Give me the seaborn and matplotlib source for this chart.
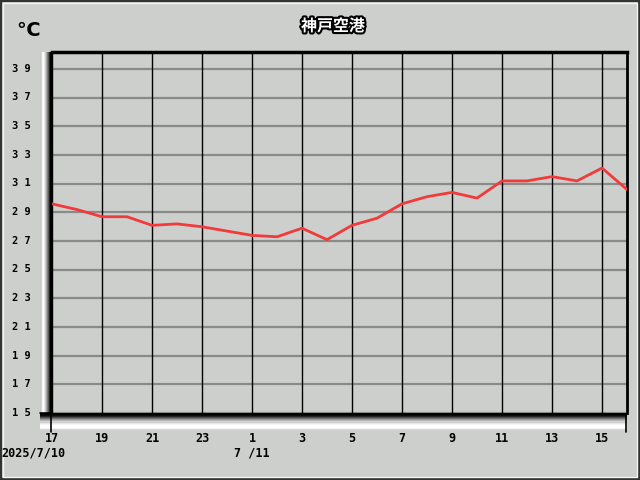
import numpy as np
import pandas as pd
import matplotlib
matplotlib.use("Agg")
import matplotlib.pyplot as plt
import matplotlib.patheffects as pe
from matplotlib.lines import Line2D
import seaborn as sns

# hourly temperature, Kobe Airport, 2025/7/10 17:00 -> 7/11 16:00
hours = [17, 18, 19, 20, 21, 22, 23, 0, 1, 2, 3, 4, 5, 6, 7, 8,
         9, 10, 11, 12, 13, 14, 15, 16]
temps = [29.6, 29.2, 28.7, 28.7, 28.1, 28.2, 28.0, 27.7, 27.4, 27.3, 27.9, 27.1,
         28.1, 28.6, 29.6, 30.1, 30.4, 30.0, 31.2, 31.2, 31.5, 31.2, 32.1, 30.6]
y_ticks = list(range(15, 40, 2))
title = "神戸空港"

BG = "#cdcfcc"

df = pd.DataFrame({"idx": range(len(hours)), "hour": hours, "temp": temps})

sns.set_style("white")
plt.rcParams["font.family"] = ["DejaVu Sans Mono", "Noto Sans CJK JP"]

fig = plt.figure(figsize=(6.4, 4.8), dpi=100, facecolor=BG)
W, H = 640, 480


def fx(px):
    return px / W


def fy(py):
    return 1 - py / H


# 3D-ish shaded strips along the left and bottom axes
left_shade = np.array([0.78, 0.85, 0.95, 1.0, 0.92, 0.8, 0.66, 0.5, 0.35, 0.15, 0.0, 0.0])[None, :]
gax = fig.add_axes([fx(40), fy(413), fx(12), fy(52) - fy(413)], zorder=1)
gax.imshow(left_shade, cmap="gray", aspect="auto", vmin=0, vmax=1, interpolation="nearest")
gax.axis("off")
bottom_shade = np.array([0.0, 0.0, 0.05, 0.15, 0.3, 0.45, 0.6, 0.72, 0.82, 0.9,
                         0.96, 1.0, 1.0, 1.0, 0.95, 0.85])[:, None]
gbx = fig.add_axes([fx(40), fy(430), fx(587), fy(413) - fy(430)], zorder=1)
gbx.imshow(bottom_shade, cmap="gray", aspect="auto", vmin=0, vmax=1, interpolation="nearest")
gbx.axis("off")

ax = fig.add_axes([fx(52), fy(413), fx(627) - fx(52), fy(52) - fy(413)], zorder=2)
ax.set_facecolor(BG)

for v in y_ticks:
    ax.axhline(v, color="#8a8a8a", lw=1.6, zorder=1)
for i in range(0, len(hours), 2):
    ax.axvline(i, color="black", lw=1.0, zorder=1)

sns.lineplot(data=df, x="idx", y="temp", color="#f23a3a", lw=2.0, ax=ax, zorder=3)

ax.set_xlim(0, len(hours) - 1)
ax.set_ylim(15, 40.2)
ax.set_xticks([])
ax.set_yticks([])
ax.set_xlabel("")
ax.set_ylabel("")
for s in ["left", "bottom"]:
    ax.spines[s].set_visible(False)
ax.spines["top"].set_linewidth(2.5)
ax.spines["right"].set_linewidth(2.0)
ax.spines["top"].set_color("black")
ax.spines["right"].set_color("black")

# tick labels
for v in y_ticks:
    py = 413 - (v - 15) * 14.35
    fig.text(fx(21), fy(py), " ".join(str(v)), ha="center", va="center",
             fontsize=7.5, fontweight="bold", color="black")
for i in range(0, len(hours), 2):
    fig.text(fx(52 + 25 * i), fy(439), str(hours[i]), ha="center", va="center",
             fontsize=8.5, fontweight="bold", color="black")
fig.text(fx(1), fy(453), "2025/7/10", ha="left", va="center",
         fontsize=8.5, fontweight="bold", color="black")
fig.text(fx(252), fy(453), "7 /11", ha="center", va="center",
         fontsize=8.5, fontweight="bold", color="black")

# small axis ticks
fig.add_artist(Line2D([fx(40), fx(52)], [fy(413), fy(413)], color="black", lw=1.2))
fig.add_artist(Line2D([fx(51), fx(51)], [fy(413), fy(432)], color="black", lw=1.2))
fig.add_artist(Line2D([fx(626), fx(626)], [fy(413), fy(432)], color="black", lw=1.2))

fig.text(fx(28), fy(30), "℃", ha="center", va="center", fontsize=14,
         fontweight="bold", family=["DejaVu Sans"], color="black")
fig.text(fx(333), fy(26), title, ha="center", va="center", fontsize=11.5,
         fontweight="bold", family=["Noto Sans CJK JP"], color="white",
         path_effects=[pe.withStroke(linewidth=3, foreground="black")])

# outer frame
fig.add_artist(plt.Rectangle((0, 0), 1, 1, transform=fig.transFigure, fill=False,
                             edgecolor="#333333", lw=3))
fig.add_artist(plt.Rectangle((fx(3), fy(477)), fx(634), fy(3) - fy(477),
                             transform=fig.transFigure, fill=False,
                             edgecolor="#f4f4f4", lw=1))

fig.savefig("out.png", dpi=100, facecolor=BG)
